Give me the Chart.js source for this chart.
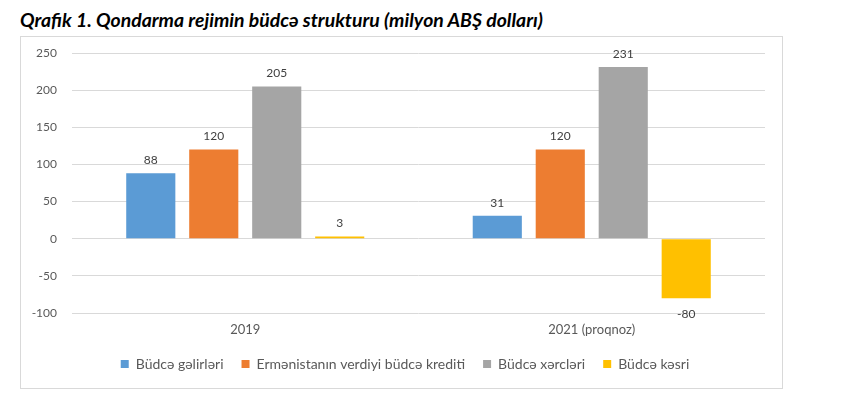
<!DOCTYPE html>
<html>
<head>
<meta charset="utf-8">
<script src="https://cdn.jsdelivr.net/npm/chart.js@4/dist/chart.umd.min.js"></script>
<style>
  html, body { margin: 0; padding: 0; background: #fff; width: 850px; height: 396px; overflow: hidden; }
  #title { position: absolute; left: 20px; top: 8px; font-family: Lato, sans-serif; font-weight: bold; font-style: italic; font-size: 19.4px; color: #000; white-space: nowrap; }
  #frame { position: absolute; left: 20px; top: 36px; width: 761px; height: 351px; border: 1px solid #D9D9D9; }
  #wrap { position: absolute; left: 17px; top: 37px; width: 833px; height: 351px; }
</style>
</head>
<body>
<div id="title">Qrafik 1. Qondarma rejimin büdcə strukturu (milyon ABŞ dolları)</div>
<div id="frame"></div>
<div id="wrap"><canvas id="c" width="833" height="351"></canvas></div>
<script>
const categories = ["2019", "2021 (proqnoz)"];
const seriesNames = ["Büdcə gəlirləri", "Ermənistanın verdiyi büdcə krediti", "Büdcə xərcləri", "Büdcə kəsri"];
const budgetRevenue = [88, 31];
const armeniaCredit = [120, 120];
const budgetExpenses = [205, 231];
const budgetDeficit = [3, -80];
const yTicks = [-100, -50, 0, 50, 100, 150, 200, 250];

const colors = ["#5B9BD5", "#ED7D31", "#A5A5A5", "#FFC000"];
const allSeries = [budgetRevenue, armeniaCredit, budgetExpenses, budgetDeficit];

const labelPlugin = {
  id: 'valueLabels',
  afterDatasetsDraw(chart) {
    const ctx = chart.ctx;
    ctx.save();
    ctx.font = '12px Lato, sans-serif';
    ctx.fillStyle = '#404040';
    ctx.textAlign = 'center';
    chart.data.datasets.forEach((ds, i) => {
      chart.getDatasetMeta(i).data.forEach((bar, j) => {
        const v = ds.data[j];
        if (v >= 0) {
          ctx.textBaseline = 'bottom';
          ctx.fillText(String(v), bar.x, bar.y - 7);
        } else {
          ctx.textBaseline = 'top';
          ctx.fillText(String(v), bar.x, bar.y + 10);
        }
      });
    });
    ctx.restore();
  }
};

new Chart(document.getElementById('c'), {
  type: 'bar',
  data: {
    labels: categories,
    datasets: allSeries.map((d, i) => ({
      label: seriesNames[i],
      data: d,
      backgroundColor: colors[i],
      borderWidth: 0,
      barPercentage: 0.78,
      categoryPercentage: 0.727,
      yAxisID: 'y'
    }))
  },
  options: {
    responsive: false,
    animation: false,
    devicePixelRatio: 1,
    layout: { padding: { top: 16, right: 57, left: 0, bottom: 7 } },
    scales: {
      x: {
        grid: { display: false, drawTicks: false },
        border: { display: false },
        ticks: { color: '#595959', font: { family: 'Lato, sans-serif', size: 13 }, padding: 9 },
        afterFit(axis) { axis.height = 26; }
      },
      y: {
        min: -100, max: 250,
        afterBuildTicks(axis) { axis.ticks = yTicks.map(v => ({ value: v })); },
        grid: { color: '#D9D9D9', drawTicks: false },
        border: { display: false },
        ticks: { color: '#595959', font: { family: 'Lato, sans-serif', size: 12 }, padding: 15 },
        afterFit(axis) { axis.width = 55; axis.paddingTop = 0; axis.paddingBottom = 0; }
      },
      ySpacer: {
        type: 'linear',
        position: 'right',
        min: 0, max: 1,
        grid: { display: false, drawTicks: false },
        border: { display: false },
        ticks: { display: false },
        afterFit(axis) { axis.width = 28; axis.paddingTop = 0; axis.paddingBottom = 0; }
      }
    },
    plugins: {
      legend: {
        position: 'bottom',
        labels: {
          boxWidth: 8, boxHeight: 8, padding: 18,
          color: '#595959',
          font: { family: 'Lato, sans-serif', size: 14 }
        }
      },
      tooltip: { enabled: false }
    }
  },
  plugins: [labelPlugin]
});
</script>
</body>
</html>
